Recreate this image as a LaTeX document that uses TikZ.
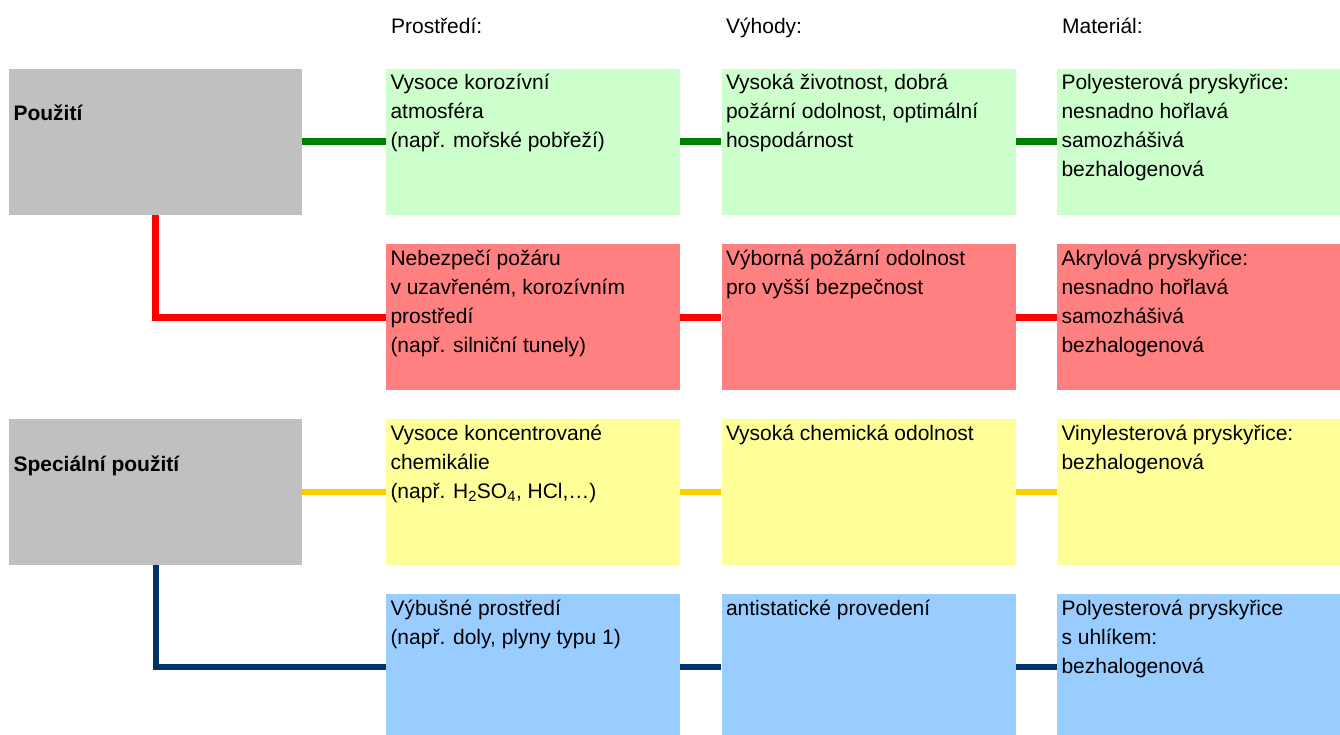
\documentclass[tikz,border=0pt]{standalone}
\usepackage{fontspec}
\setmainfont{Liberation Sans}
\usepackage{tikz}
\usepackage{xcolor}
\definecolor{catgray}{HTML}{C0C0C0}
\definecolor{lightgreen}{HTML}{CCFFCC}
\definecolor{lightred}{HTML}{FF8080}
\definecolor{lightyellow}{HTML}{FFFF99}
\definecolor{lightblue}{HTML}{99CCFF}
\definecolor{linegreen}{HTML}{008000}
\definecolor{linered}{HTML}{FF0000}
\definecolor{lineyellow}{HTML}{FFCC00}
\definecolor{linenavy}{HTML}{003366}
\newcommand{\boxtext}[1]{\parbox[c][146pt][t]{285pt}{\raggedright\rule{0pt}{21pt}#1}}
\newcommand{\cattext}[1]{\parbox[c][146pt][t]{284pt}{\raggedright\rule{0pt}{52pt}\textbf{#1}}}
\tikzstyle{cat} = [rectangle, fill=catgray, inner xsep=4.5pt, inner ysep=0pt, font=\fontsize{21}{29}\selectfont]
\tikzstyle{cell} = [rectangle, inner xsep=4.5pt, inner ysep=0pt, font=\fontsize{21}{29}\selectfont]
\tikzstyle{hdr} = [anchor=base west, inner sep=0pt, font=\fontsize{21}{29}\selectfont]

\begin{document}
\begin{tikzpicture}[node distance=335.5pt]
  \useasboundingbox (0,0) rectangle (1340pt,-735pt);
  \clip (0,0) rectangle (1340pt,-735pt);

  \node[hdr] (h_env) at (391pt,-34pt) {Prostředí:};
  \node[hdr] (h_adv) at (726pt,-34pt) {Výhody:};
  \node[hdr] (h_mat) at (1062pt,-34pt) {Materiál:};

  \node[cat] (use) at (155.5pt,-142pt) {\cattext{Použití}};
  \node[cat] (special) [below of=use, node distance=350pt] {\cattext{Speciální použití}};

  \node[cell, fill=lightgreen] (env1) [right of=use, node distance=377.5pt] {\boxtext{Vysoce korozívní\\ atmosféra\\ (např. mořské pobřeží)}};
  \node[cell, fill=lightgreen] (adv1) [right of=env1] {\boxtext{Vysoká životnost, dobrá\\ požární odolnost, optimální\\ hospodárnost}};
  \node[cell, fill=lightgreen] (mat1) [right of=adv1] {\boxtext{Polyesterová pryskyřice:\\ nesnadno hořlavá\\ samozhášivá\\ bezhalogenová}};

  \node[cell, fill=lightred] (env2) [below of=env1, node distance=175pt] {\boxtext{Nebezpečí požáru\\ v uzavřeném, korozívním\\ prostředí\\ (např. silniční tunely)}};
  \node[cell, fill=lightred] (adv2) [right of=env2] {\boxtext{Výborná požární odolnost\\ pro vyšší bezpečnost}};
  \node[cell, fill=lightred] (mat2) [right of=adv2] {\boxtext{Akrylová pryskyřice:\\ nesnadno hořlavá\\ samozhášivá\\ bezhalogenová}};

  \node[cell, fill=lightyellow] (env3) [below of=env2, node distance=175pt] {\boxtext{Vysoce koncentrované\\ chemikálie\\ (např. H\textsubscript{2}SO\textsubscript{4}, HCl,…)}};
  \node[cell, fill=lightyellow] (adv3) [right of=env3] {\boxtext{Vysoká chemická odolnost}};
  \node[cell, fill=lightyellow] (mat3) [right of=adv3] {\boxtext{Vinylesterová pryskyřice:\\ bezhalogenová}};

  \node[cell, fill=lightblue] (env4) [below of=env3, node distance=175pt] {\boxtext{Výbušné prostředí\\ (např. doly, plyny typu 1)}};
  \node[cell, fill=lightblue] (adv4) [right of=env4] {\boxtext{antistatické provedení}};
  \node[cell, fill=lightblue] (mat4) [right of=adv4] {\boxtext{Polyesterová pryskyřice\\ s uhlíkem:\\ bezhalogenová}};

  \path (use) edge[linegreen, line width=7pt] (env1);
  \path (env1) edge[linegreen, line width=7pt] (adv1);
  \path (adv1) edge[linegreen, line width=7pt] (mat1);
  \draw[linered, line width=7pt] (use) |- (env2);
  \path (env2) edge[linered, line width=7pt] (adv2);
  \path (adv2) edge[linered, line width=7pt] (mat2);
  \path (special) edge[lineyellow, line width=6pt] (env3);
  \path (env3) edge[lineyellow, line width=6pt] (adv3);
  \path (adv3) edge[lineyellow, line width=6pt] (mat3);
  \draw[linenavy, line width=6pt] (special) |- (env4);
  \path (env4) edge[linenavy, line width=6pt] (adv4);
  \path (adv4) edge[linenavy, line width=6pt] (mat4);
\end{tikzpicture}
\end{document}
